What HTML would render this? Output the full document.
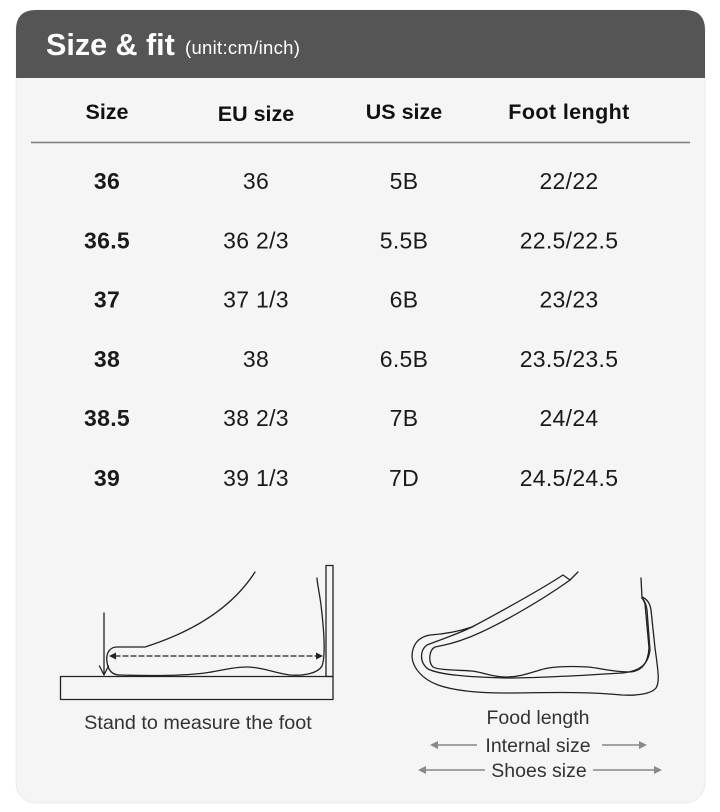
<!DOCTYPE html>
<html>
<head>
<meta charset="utf-8">
<style>
  html,body{margin:0;padding:0;background:#ffffff;}
  body{width:720px;height:812px;overflow:hidden;}
  svg{display:block;}
  text{font-family:"Liberation Sans", sans-serif;}
</style>
</head>
<body>
<svg width="720" height="812" viewBox="0 0 720 812" xmlns="http://www.w3.org/2000/svg">
  <!-- card -->
  <rect x="16" y="10" width="689" height="793" rx="20" ry="20" fill="#f5f5f5" stroke="#ececec" stroke-width="1"/>
  <!-- header -->
  <path d="M16,78 L16,30 Q16,10 36,10 L685,10 Q705,10 705,30 L705,78 Z" fill="#555555"/>
  <text x="46" y="55" font-size="30.5" font-weight="bold" fill="#ffffff">Size &amp; fit</text>
  <text x="185" y="54" font-size="18.5" fill="#ffffff" letter-spacing="0.3">(unit:cm/inch)</text>

  <!-- column headers -->
  <g font-size="21.5" font-weight="bold" fill="#111" text-anchor="middle">
    <text x="107" y="119">Size</text>
    <text x="256" y="121">EU size</text>
    <text x="404" y="119">US size</text>
    <text x="569" y="119" letter-spacing="0.4">Foot lenght</text>
  </g>
  <line x1="31" y1="142.5" x2="690" y2="142.5" stroke="#7a7a7a" stroke-width="1.6"/>

  <!-- rows -->
  <g font-size="23" fill="#1a1a1a" text-anchor="middle" letter-spacing="0.3">
    <text x="107" y="189" font-weight="bold">36</text>
    <text x="256" y="189">36</text>
    <text x="404" y="189">5B</text>
    <text x="569" y="189">22/22</text>

    <text x="107" y="248.5" font-weight="bold">36.5</text>
    <text x="256" y="248.5">36 2/3</text>
    <text x="404" y="248.5">5.5B</text>
    <text x="569" y="248.5">22.5/22.5</text>

    <text x="107" y="307.5" font-weight="bold">37</text>
    <text x="256" y="307.5">37 1/3</text>
    <text x="404" y="307.5">6B</text>
    <text x="569" y="307.5">23/23</text>

    <text x="107" y="367" font-weight="bold">38</text>
    <text x="256" y="367">38</text>
    <text x="404" y="367">6.5B</text>
    <text x="569" y="367">23.5/23.5</text>

    <text x="107" y="426" font-weight="bold">38.5</text>
    <text x="256" y="426">38 2/3</text>
    <text x="404" y="426">7B</text>
    <text x="569" y="426">24/24</text>

    <text x="107" y="486" font-weight="bold">39</text>
    <text x="256" y="486">39 1/3</text>
    <text x="404" y="486">7D</text>
    <text x="569" y="486">24.5/24.5</text>
  </g>

  <!-- left illustration -->
  <g fill="none" stroke="#222" stroke-width="1.3" stroke-linejoin="round" stroke-linecap="round">
    <rect x="60.5" y="676.5" width="272.5" height="23"/>
    <rect x="326" y="565.5" width="7" height="111"/>
    <line x1="104" y1="613" x2="104" y2="674"/>
    <polyline points="99.5,666 104,675 108.5,666"/>
    <path d="M255,572 C232,608 192,632 145,647 L116,647 C108,648 106,655 107,662 C108,670 112,675 120,675 C150,676 180,676 205,673 C220,671 232,667 246,667 C262,667 275,673 290,675 C305,676 318,673 322,666 C326,655 324,630 321,605 C319,590 317,582 317,578"/>
    <line x1="115" y1="656" x2="318" y2="656" stroke-dasharray="5,3"/>
  </g>
  <polygon points="109,656 116,652.5 116,659.5" fill="#222"/>
  <polygon points="323,656 316,652.5 316,659.5" fill="#222"/>
  <text x="198" y="729" font-size="19.8" fill="#333" text-anchor="middle">Stand to measure the foot</text>

  <!-- right illustration -->
  <g fill="none" stroke="#222" stroke-width="1.3" stroke-linejoin="round" stroke-linecap="round">
    <path d="M472,627 C460,631 445,634 430,635 C418,637 412,645 412,657 C413,668 422,679 438,685 C455,691 480,693 505,693 C540,693 580,691 622,695 C640,696 652,693 656,688 C660,682 658,670 655,648 L651,610 C650,603 647,599 642,597"/>
    <path d="M472,627 C460,633 440,640 427,645 C420,650 419,662 428,669 C440,675 470,677 505,678 C545,678 590,675 622,673 C640,671 648,665 650,650 L647,610 C646,603 644,600 642,598"/>
    <path d="M563,575 C540,590 500,612 472,627"/>
    <path d="M570,580 C545,598 500,625 470,637 C455,643 445,645 435,647 C429,650 428,662 433,667 C438,670 455,670 472,671 C482,672 492,677 505,677 C520,677 530,673 540,670 C552,666 570,666 588,667 C600,668 612,672 630,672 C643,671 648,662 649,648 L645,604 C644,601 643,599 642,598"/>
    <polyline points="563,575 570,580 578,572"/>
    <line x1="641" y1="578" x2="642" y2="598"/>
  </g>

  <g font-size="19.5" fill="#333" text-anchor="middle">
    <text x="538" y="724">Food length</text>
    <text x="538" y="752">Internal size</text>
    <text x="539" y="777">Shoes size</text>
  </g>
  <g stroke="#888" stroke-width="1.6">
    <line x1="436" y1="745" x2="477" y2="745"/>
    <line x1="602" y1="745" x2="641" y2="745"/>
    <line x1="424" y1="770" x2="485" y2="770"/>
    <line x1="593" y1="770" x2="656" y2="770"/>
  </g>
  <g fill="#888">
    <polygon points="430,745 438,741 438,749"/>
    <polygon points="647,745 639,741 639,749"/>
    <polygon points="418,770 426,766 426,774"/>
    <polygon points="662,770 654,766 654,774"/>
  </g>
</svg>
</body>
</html>
